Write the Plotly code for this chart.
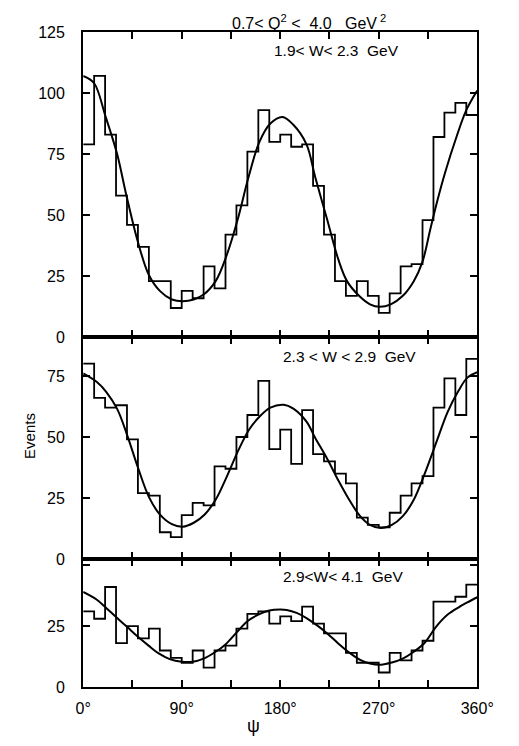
import plotly.graph_objects as go

# ---------------- data ----------------
bin_width = 10
n_bins = 36

top_counts = [79, 107, 83, 58, 46, 37, 23, 23, 12, 19, 16, 29, 20, 42, 54, 76, 93, 80,
              83, 78, 79, 62, 42, 23, 17, 23, 17, 10, 18, 29, 30, 48, 82, 92, 96, 91]
mid_counts = [80, 66, 62, 63, 49, 27, 26, 11, 9, 18, 23, 22, 38, 37, 50, 59, 73, 45,
              53, 39, 61, 43, 40, 35, 31, 17, 14, 13, 19, 26, 31, 34, 62, 74, 59, 82]
bot_counts = [31, 28, 41, 18, 25, 20, 24, 15, 12, 10, 15, 8, 15, 17, 24, 30, 31, 26,
              29, 27, 33, 26, 22, 22, 14, 10, 10, 6, 14, 11, 15, 19, 35, 35, 37, 42]

top_fit_psi = [0, 10, 20, 31, 39, 50, 60, 70, 81, 91, 101, 110, 121, 131, 141, 151, 161, 171,
               182, 192, 204, 212, 223, 233, 241, 252, 262, 271, 281, 292, 302, 310, 317, 323,
               331, 341, 350, 360]
top_fit_val = [107, 104, 91, 75, 59, 39, 25.5, 19, 15.5, 14.8, 15.5, 17.5, 23, 33.5, 48, 65.5, 80, 87.5,
               90.2, 87, 79, 65.5, 48, 32, 23, 17, 13.5, 12.5, 13.5, 17, 23, 31, 44, 55,
               68, 82, 93, 101]

mid_fit_psi = [0, 12.5, 21, 31, 40, 50, 60, 70, 81, 91, 101, 111, 121, 131, 141.5, 151.5, 161, 171,
               183, 192, 204, 212, 223, 233, 243, 253, 262, 272, 282, 292, 302, 312, 323, 333,
               343, 351, 360]
mid_fit_val = [76, 72.5, 68.5, 61.5, 51, 37.5, 25.5, 18.3, 14.3, 13.3, 14.9, 18.3, 24.3, 33.6, 44.3, 53, 58.3, 62,
               63.2, 61.6, 56.3, 49.6, 41, 32.3, 24.3, 17.6, 14, 12.7, 14, 17.6, 24.3, 35, 48.3, 60.3,
               69, 74.3, 76.5]

bot_fit_psi = [0, 12.5, 21, 31, 40, 50, 60, 69, 79, 90, 100, 110, 120, 130, 140, 150, 160, 170,
               180, 186, 195, 204, 214, 224, 233, 243, 253, 262, 272, 282, 292, 302, 312, 322,
               333, 343, 351, 360]
bot_fit_val = [39, 35.8, 32.4, 28.3, 24.7, 20.6, 16.9, 13.8, 11.5, 10.4, 10.4, 11.7, 14.2, 17.5, 22.3, 27, 29.7, 31.4,
               31.8, 31.6, 30.4, 28.3, 25.2, 21.6, 17.9, 14.2, 11.2, 9.7, 9.2, 10.1, 11.7, 14.5, 18.2, 24.5,
               29.7, 32.7, 34.7, 36.8]

panel_labels = ["1.9< W< 2.3  GeV", "2.3 < W < 2.9  GeV", "2.9<W< 4.1  GeV"]
x_tick_vals = [0, 90, 180, 270, 360]
x_tick_text = ["0°", "90°", "180°", "270°", "360°"]

# ---------------- layout geometry (pixels) ----------------
W, H = 519, 746
x_left, x_right = 79, 493
panel_px = [(24.5, 337), (337, 564), (564, 695)]
ranges = [125, 90.8, 52.4]

def py(p):
    return 1 - p / H

fig = go.Figure()

edges = [i * bin_width for i in range(n_bins)] + [n_bins * bin_width]
datasets = [(top_counts, top_fit_psi, top_fit_val),
            (mid_counts, mid_fit_psi, mid_fit_val),
            (bot_counts, bot_fit_psi, bot_fit_val)]

for i, (counts, fpsi, fval) in enumerate(datasets):
    xa = "x" if i == 0 else f"x{i+1}"
    ya = "y" if i == 0 else f"y{i+1}"
    fig.add_trace(go.Scatter(x=edges, y=counts + [counts[-1]], mode="lines",
                             line=dict(shape="hv", color="black", width=1.8),
                             xaxis=xa, yaxis=ya, showlegend=False, hoverinfo="skip"))
    fig.add_trace(go.Scatter(x=fpsi, y=fval, mode="lines",
                             line=dict(shape="spline", smoothing=1.0, color="black", width=2),
                             xaxis=xa, yaxis=ya, showlegend=False, hoverinfo="skip"))

axis_common = dict(showline=True, linecolor="black", linewidth=2.2, mirror="ticks",
                   ticks="inside", ticklen=7, tickwidth=1.5, tickcolor="black",
                   showgrid=False, zeroline=False)

ytick_specs = [
    ([0, 25, 50, 75, 100, 125], ["0", "25", "50", "75", "100", "125"]),
    ([0, 25, 50, 75], ["0", "25", "50", "75"]),
    ([0, 25], ["0", "25"]),
]

layout = dict(width=W, height=H, margin=dict(l=0, r=0, t=0, b=0),
              paper_bgcolor="white", plot_bgcolor="white",
              font=dict(family="Liberation Sans, Arial, sans-serif", color="black", size=15))

for i in range(3):
    xk = "xaxis" if i == 0 else f"xaxis{i+1}"
    yk = "yaxis" if i == 0 else f"yaxis{i+1}"
    ya = "y" if i == 0 else f"y{i+1}"
    xa = "x" if i == 0 else f"x{i+1}"
    top_px, bot_px = panel_px[i]
    layout[xk] = dict(axis_common, domain=[x_left / W, x_right / W], range=[0, 360],
                      anchor=ya, tickvals=x_tick_vals, ticktext=x_tick_text,
                      showticklabels=(i == 2), tickfont=dict(size=16),
                      ticklabelstandoff=6,
                      minor=dict(dtick=45, tick0=0, ticks="inside", ticklen=7,
                                 tickwidth=1.5, tickcolor="black", showgrid=False))
    if i > 0:
        layout[xk]["matches"] = "x"
    tv, tt = ytick_specs[i]
    layout[yk] = dict(axis_common, domain=[py(bot_px), py(top_px)], range=[0, ranges[i]],
                      anchor=xa, tickvals=tv, ticktext=tt, tickfont=dict(size=16),
                      ticklabelstandoff=13,
                      minor=dict(dtick=25, tick0=0, ticks="inside", ticklen=7,
                                 tickwidth=1.5, tickcolor="black", showgrid=False))

fig.update_layout(**layout)

annotations = [
    dict(text="0.7< Q<sup>2</sup> <  4.0   GeV<sup> 2</sup>", x=316 / W, y=py(14), xref="paper", yref="paper",
         showarrow=False, font=dict(size=16), xanchor="center", yanchor="middle"),
    dict(text=panel_labels[0], x=277 / W, y=py(44), xref="paper", yref="paper",
         showarrow=False, font=dict(size=15.5), xanchor="left", yanchor="middle"),
    dict(text=panel_labels[1], x=287 / W, y=py(357), xref="paper", yref="paper",
         showarrow=False, font=dict(size=15.5), xanchor="left", yanchor="middle"),
    dict(text=panel_labels[2], x=287 / W, y=py(582), xref="paper", yref="paper",
         showarrow=False, font=dict(size=15.5), xanchor="left", yanchor="middle"),
    dict(text="Events", x=22 / W, y=py(438), xref="paper", yref="paper", textangle=-90,
         showarrow=False, font=dict(size=15), xanchor="center", yanchor="middle"),
    dict(text="ψ", x=258 / W, y=py(735), xref="paper", yref="paper",
         showarrow=False, font=dict(size=18), xanchor="center", yanchor="middle"),
]
fig.update_layout(annotations=annotations)

fig.write_html("out.html")
